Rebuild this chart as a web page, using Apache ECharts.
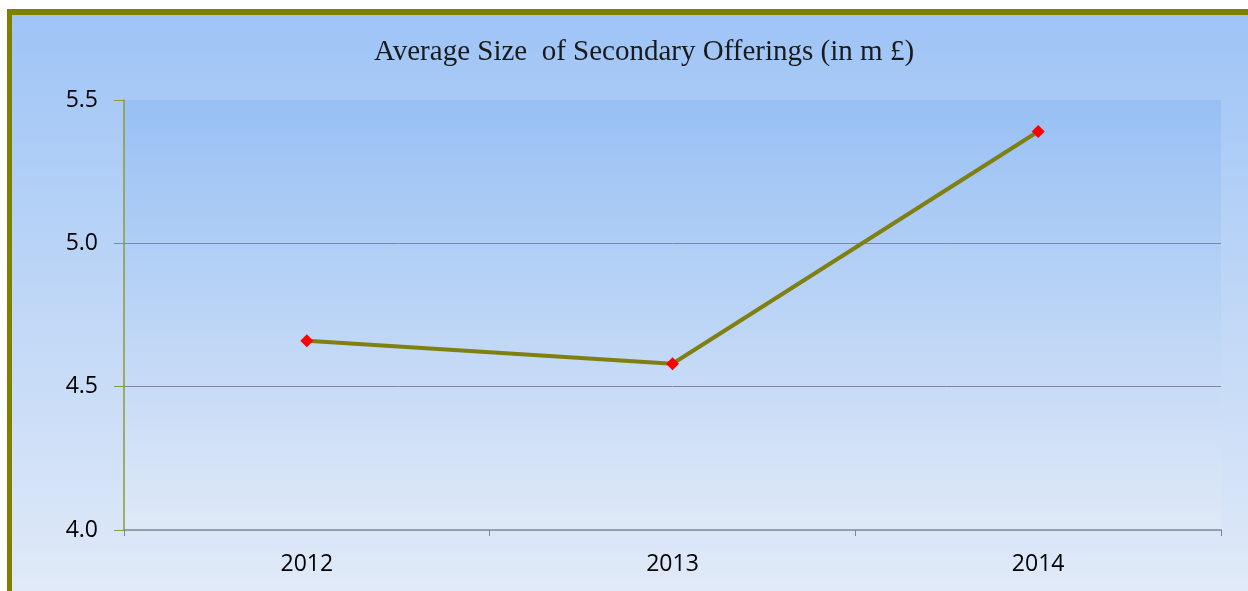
<!DOCTYPE html>
<html>
<head>
<meta charset="utf-8">
<script src="https://cdn.jsdelivr.net/npm/echarts@6/dist/echarts.min.js"></script>
<style>
  html, body { margin: 0; padding: 0; background: #fff; }
  #chart { width: 1248px; height: 591px; }
</style>
</head>
<body>
<div id="chart"></div>
<script>
// data
const years = ['2012', '2013', '2014']
const avgSize = [4.66, 4.58, 5.39]
const yTicks = { min: 4.0, max: 5.5, interval: 0.5 }

const chart = echarts.init(document.getElementById('chart'))

const option = {
  backgroundColor: '#ffffff',
  animation: false,
  // olive frame + sky gradient behind everything
  graphic: [
    {
      type: 'rect',
      z: -10,
      shape: { x: 7, y: 9, width: 1260, height: 600 },
      style: { fill: '#808000' }
    },
    {
      type: 'rect',
      z: -9,
      shape: { x: 12, y: 15, width: 1250, height: 590 },
      style: {
        fill: new echarts.graphic.LinearGradient(0, 0, 0, 1, [
          { offset: 0, color: '#9ec4f6' },
          { offset: 1, color: '#e2ebf8' }
        ])
      }
    }
  ],
  title: {
    text: 'Average Size  of Secondary Offerings (in m £)',
    left: 639,
    top: 33,
    textAlign: 'center',
    textStyle: {
      fontFamily: 'Liberation Serif',
      fontWeight: 'normal',
      fontSize: 29,
      color: '#1a1a1a'
    }
  },
  grid: {
    left: 124,
    right: 27,
    top: 100,
    bottom: 61,
    show: true,
    borderWidth: 0,
    backgroundColor: new echarts.graphic.LinearGradient(0, 0, 0, 1, [
      { offset: 0, color: '#98c0f4' },
      { offset: 1, color: '#dfe9f8' }
    ])
  },
  xAxis: {
    type: 'category',
    data: years,
    boundaryGap: true,
    axisLine: { lineStyle: { color: '#7d8794', width: 1.5 } },
    axisTick: { show: true, length: 6, lineStyle: { color: '#7d8794' } },
    axisLabel: {
      fontFamily: 'Open Sans',
      fontSize: 23,
      color: '#000',
      margin: 23
    }
  },
  yAxis: {
    type: 'value',
    min: yTicks.min,
    max: yTicks.max,
    interval: yTicks.interval,
    axisLine: { show: true, lineStyle: { color: '#8c9a3a', width: 1.5 } },
    axisTick: { show: true, length: 10, lineStyle: { color: '#8c9a3a' } },
    axisLabel: {
      fontFamily: 'Open Sans',
      fontSize: 23,
      color: '#000',
      margin: 26,
      formatter: v => v.toFixed(1)
    },
    splitLine: {
      show: true,
      lineStyle: {
        color: ['rgba(0,0,0,0)', '#7f8a99', '#7f8a99', 'rgba(0,0,0,0)'],
        width: 1
      }
    }
  },
  series: [
    {
      name: 'Average Size',
      type: 'line',
      data: avgSize,
      symbol: 'diamond',
      symbolSize: 13,
      itemStyle: { color: '#ff0000' },
      lineStyle: { color: '#7f7f12', width: 4 }
    }
  ]
}

chart.setOption(option)
</script>
</body>
</html>
